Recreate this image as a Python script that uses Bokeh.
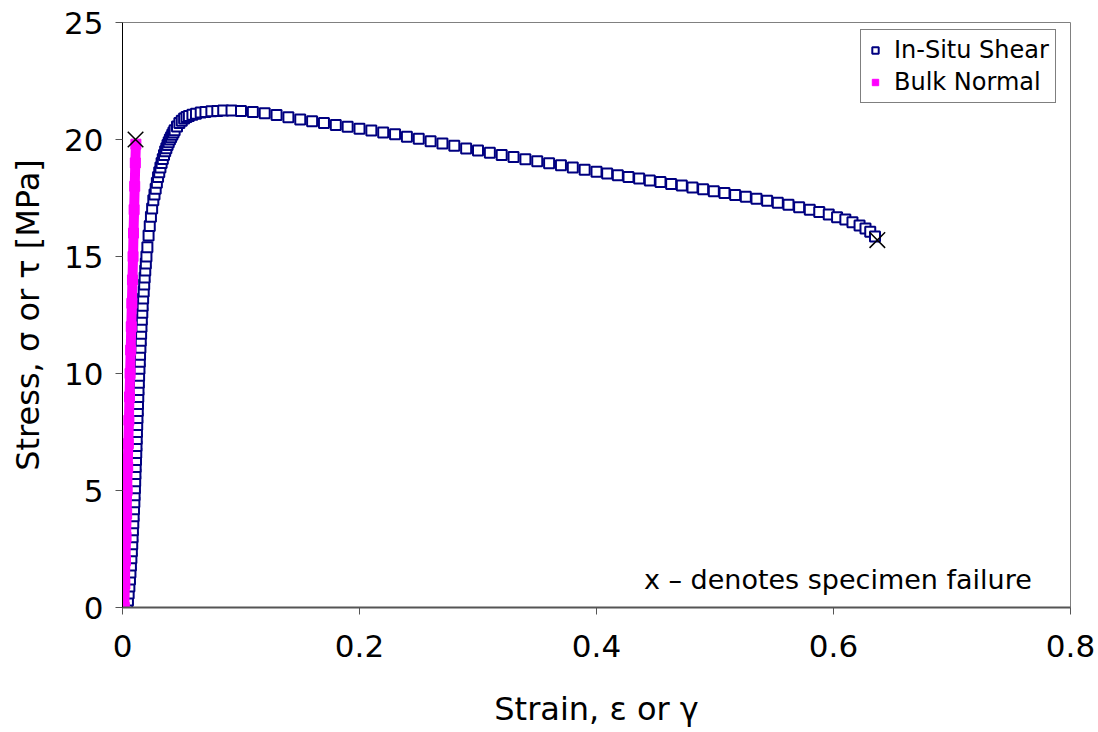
from bokeh.plotting import figure
from bokeh.models import Legend, LegendItem, Label, FixedTicker
from bokeh.embed import file_html
from bokeh.resources import INLINE

# ---- data ----
shear_strain = [
    0.0040, 0.0046, 0.0052, 0.0058, 0.0063, 0.0067, 0.0071, 0.0075, 0.0079, 0.0082,
    0.0085, 0.0088, 0.0091, 0.0094, 0.0097, 0.0100, 0.0102, 0.0105, 0.0107, 0.0109,
    0.0111, 0.0114, 0.0116, 0.0118, 0.0120, 0.0122, 0.0124, 0.0126, 0.0129, 0.0131,
    0.0133, 0.0135, 0.0138, 0.0140, 0.0143, 0.0146, 0.0148, 0.0151, 0.0154, 0.0157,
    0.0160, 0.0163, 0.0167, 0.0170, 0.0174, 0.0179, 0.0183, 0.0187, 0.0192, 0.0197,
    0.0202,
    0.0210, 0.0220, 0.0230, 0.0240, 0.0250, 0.0260, 0.0270, 0.0280, 0.0290, 0.0300,
    0.0310, 0.0320, 0.0330, 0.0340, 0.0350, 0.0360, 0.0370, 0.0380, 0.0390, 0.0400,
    0.0410, 0.0420, 0.0430, 0.0440, 0.0460, 0.0480, 0.0500, 0.0520, 0.0540, 0.0560,
    0.0590, 0.0620, 0.0660, 0.0700, 0.0750, 0.0800, 0.0850, 0.0920,
    0.100, 0.110, 0.120, 0.130, 0.140, 0.150, 0.160, 0.170, 0.180, 0.190,
    0.200, 0.210, 0.220, 0.230, 0.240, 0.250, 0.260, 0.270, 0.280, 0.290,
    0.300, 0.310, 0.320, 0.330, 0.340, 0.350, 0.360, 0.370, 0.380, 0.390,
    0.400,
    0.409, 0.418, 0.427, 0.436, 0.445, 0.454, 0.463, 0.472, 0.481, 0.490,
    0.499, 0.508, 0.517, 0.526, 0.535, 0.544, 0.553, 0.562, 0.571, 0.580,
    0.588, 0.596, 0.603, 0.610, 0.616, 0.622, 0.627, 0.631, 0.635,
]
shear_stress = [
    0.0, 0.3, 0.6, 0.9, 1.2, 1.5, 1.8, 2.1, 2.4, 2.7,
    3.0, 3.3, 3.6, 3.9, 4.2, 4.5, 4.8, 5.1, 5.4, 5.7,
    6.0, 6.3, 6.6, 6.9, 7.2, 7.5, 7.8, 8.1, 8.4, 8.7,
    9.0, 9.3, 9.6, 9.9, 10.2, 10.5, 10.8, 11.1, 11.4, 11.7,
    12.0, 12.3, 12.6, 12.9, 13.2, 13.5, 13.8, 14.1, 14.4, 14.7,
    15.0,
    15.4, 15.9, 16.3, 16.7, 17.05, 17.4, 17.65, 17.9, 18.15, 18.4,
    18.6, 18.8, 19.0, 19.17, 19.34, 19.5, 19.63, 19.76, 19.88, 20.0,
    20.1, 20.2, 20.3, 20.4, 20.56, 20.7, 20.8, 20.9, 20.96, 21.0,
    21.06, 21.1, 21.15, 21.18, 21.21, 21.22, 21.24, 21.24,
    21.22, 21.18, 21.12, 21.05, 20.95, 20.85, 20.78, 20.70, 20.62, 20.54,
    20.46, 20.38, 20.30, 20.22, 20.12, 20.03, 19.93, 19.83, 19.73, 19.62,
    19.53, 19.43, 19.34, 19.25, 19.16, 19.07, 18.98, 18.90, 18.80, 18.71,
    18.62,
    18.55, 18.47, 18.40, 18.33, 18.25, 18.18, 18.10, 18.03, 17.95, 17.87,
    17.79, 17.71, 17.63, 17.55, 17.47, 17.38, 17.30, 17.21, 17.11, 17.00,
    16.90, 16.79, 16.68, 16.58, 16.46, 16.33, 16.20, 16.06, 15.85,
]

bulk_strain = [0.0015, 0.0020, 0.0025, 0.0030, 0.0035, 0.0039, 0.0044, 0.0049,
               0.0054, 0.0059, 0.0064, 0.0069, 0.0074, 0.0079, 0.0084, 0.0089,
               0.0093, 0.0098, 0.0103, 0.0108, 0.0113]
bulk_stress = [0, 1, 2, 3, 4, 5, 6, 7, 8, 9, 10, 11, 12, 13, 14, 15, 16, 17, 18, 19, 19.8]

fail_strain = [0.011, 0.637]
fail_stress = [20.0, 15.7]

x_ticks = [0, 0.2, 0.4, 0.6, 0.8]
x_tick_labels = ["0", "0.2", "0.4", "0.6", "0.8"]
y_ticks = [0, 5, 10, 15, 20, 25]

x_title = "Strain, \u03b5 or \u03b3"
y_title = "Stress, \u03c3 or \u03c4 [MPa]"
note_text = "x \u2013 denotes specimen failure"

FONT = "DejaVu Sans"

p = figure(width=1098, height=732, x_range=(0, 0.8), y_range=(0, 25),
           output_backend="svg", toolbar_location=None,
           min_border_left=122, min_border_right=28, min_border_top=22,
           min_border_bottom=125)
p.grid.visible = False
p.background_fill_color = "white"
p.border_fill_color = "white"
p.outline_line_color = "#808080"
p.outline_line_width = 1

# series
r_shear = p.scatter(shear_strain, shear_stress, marker="square", size=10,
                    fill_color="white", fill_alpha=1.0, line_color="#000080",
                    line_width=2)
r_bulk_line = p.line(bulk_strain, bulk_stress, line_color="#FF00FF", line_width=10)
r_bulk = p.scatter(bulk_strain, bulk_stress, marker="square", size=10,
                   fill_color="#FF00FF", line_color="#FF00FF")
p.scatter(fail_strain, fail_stress, marker="x", size=22, line_color="black",
          line_width=1.5)

# axes
p.xaxis.ticker = FixedTicker(ticks=x_ticks)
p.xaxis.major_label_overrides = {t: l for t, l in zip(x_ticks, x_tick_labels)}
p.yaxis.ticker = FixedTicker(ticks=y_ticks)
for ax in (p.xaxis, p.yaxis):
    ax.minor_tick_line_color = None
    ax.major_tick_in = 0
    ax.major_tick_out = 7
    ax.major_label_text_font = FONT
    ax.major_label_text_font_size = "31px"
    ax.major_label_text_color = "black"
    ax.axis_label_text_font = FONT
    ax.axis_label_text_font_size = "32px"
    ax.axis_label_text_font_style = "normal"
    ax.axis_label_text_color = "black"
p.yaxis.axis_line_color = "black"
p.yaxis.major_tick_line_color = "#555555"
p.xaxis.axis_line_color = "#555555"
p.xaxis.axis_line_width = 2
p.xaxis.major_tick_line_color = "#555555"
p.xaxis.axis_label = x_title
p.yaxis.axis_label = y_title
p.xaxis.major_label_standoff = 20
p.yaxis.major_label_standoff = 12
p.xaxis.axis_label_standoff = 30
p.yaxis.axis_label_standoff = 14

legend = Legend(items=[LegendItem(label="In-Situ Shear", renderers=[r_shear]),
                       LegendItem(label="Bulk Normal", renderers=[r_bulk])],
                location=(738, 504))
legend.label_text_font = FONT
legend.label_text_font_size = "24px"
legend.label_text_color = "black"
legend.border_line_color = "black"
legend.border_line_width = 1
legend.background_fill_color = "white"
legend.background_fill_alpha = 1.0
legend.glyph_width = 16
legend.glyph_height = 20
legend.label_standoff = 11
legend.label_height = 28
legend.spacing = 4
legend.padding = 6
legend.margin = 0
p.add_layout(legend)

note = Label(x=0.44, y=1.2, text=note_text,
             text_font=FONT, text_font_size="27px", text_color="black",
             text_baseline="alphabetic")
p.add_layout(note)

open("out.html", "w").write(file_html(p, INLINE))
